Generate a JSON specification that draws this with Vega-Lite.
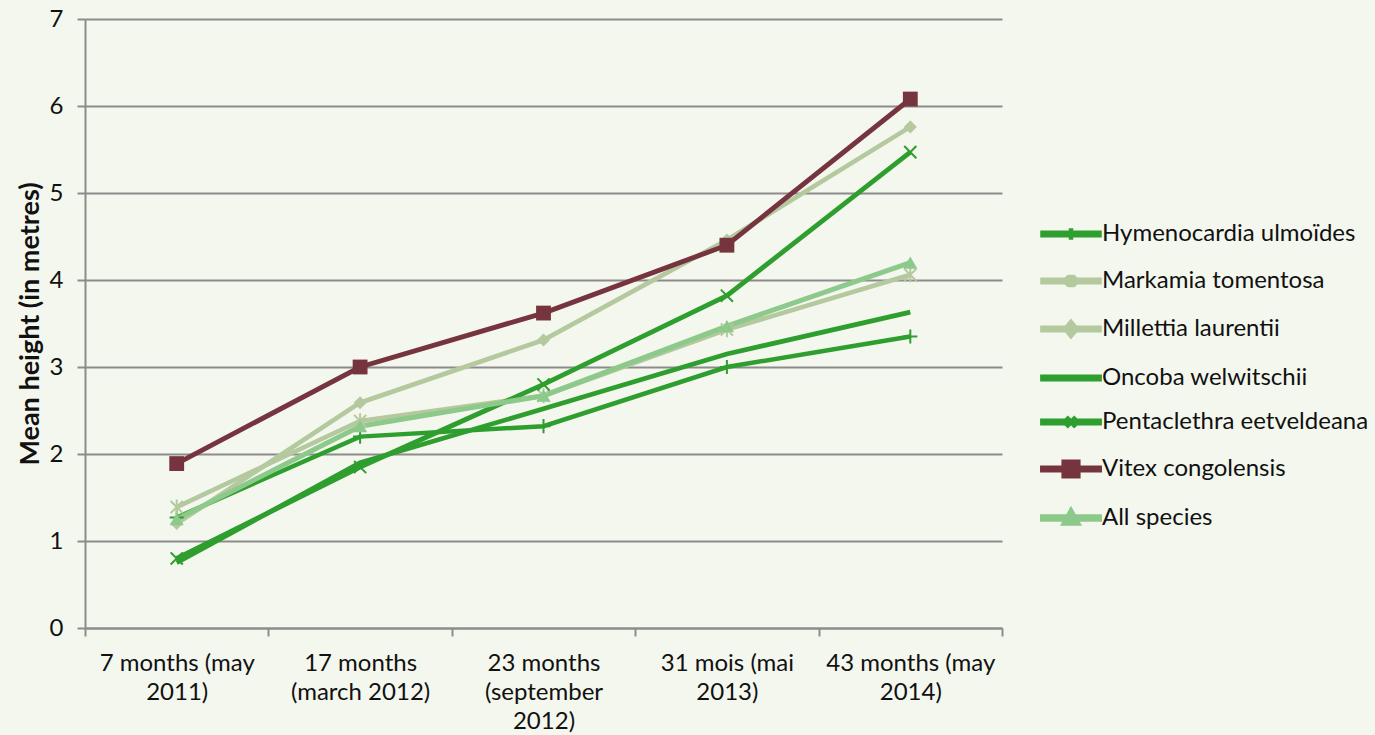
{
  "$schema": "https://vega.github.io/schema/vega-lite/v6.json",
  "width": 917,
  "height": 609,
  "autosize": "none",
  "padding": {"left": 85, "top": 19, "right": 373, "bottom": 107},
  "background": "#F4F7EE",
  "config": {
    "font": "Lato",
    "view": {"stroke": null}
  },
  "data": {
    "values": [
      {"species": "Hymenocardia ulmoïdes", "age": "7 months (may 2011)", "height": 1.27},
      {"species": "Hymenocardia ulmoïdes", "age": "17 months (march 2012)", "height": 2.2},
      {"species": "Hymenocardia ulmoïdes", "age": "23 months (september 2012)", "height": 2.32},
      {"species": "Hymenocardia ulmoïdes", "age": "31 mois (mai 2013)", "height": 3.0},
      {"species": "Hymenocardia ulmoïdes", "age": "43 months (may 2014)", "height": 3.35},
      {"species": "Markamia tomentosa", "age": "7 months (may 2011)", "height": 1.39},
      {"species": "Markamia tomentosa", "age": "17 months (march 2012)", "height": 2.38},
      {"species": "Markamia tomentosa", "age": "23 months (september 2012)", "height": 2.67},
      {"species": "Markamia tomentosa", "age": "31 mois (mai 2013)", "height": 3.43},
      {"species": "Markamia tomentosa", "age": "43 months (may 2014)", "height": 4.06},
      {"species": "Millettia laurentii", "age": "7 months (may 2011)", "height": 1.2},
      {"species": "Millettia laurentii", "age": "17 months (march 2012)", "height": 2.59},
      {"species": "Millettia laurentii", "age": "23 months (september 2012)", "height": 3.31},
      {"species": "Millettia laurentii", "age": "31 mois (mai 2013)", "height": 4.46},
      {"species": "Millettia laurentii", "age": "43 months (may 2014)", "height": 5.76},
      {"species": "Oncoba welwitschii", "age": "7 months (may 2011)", "height": 0.75},
      {"species": "Oncoba welwitschii", "age": "17 months (march 2012)", "height": 1.9},
      {"species": "Oncoba welwitschii", "age": "23 months (september 2012)", "height": 2.52},
      {"species": "Oncoba welwitschii", "age": "31 mois (mai 2013)", "height": 3.15},
      {"species": "Oncoba welwitschii", "age": "43 months (may 2014)", "height": 3.63},
      {"species": "Pentaclethra eetveldeana", "age": "7 months (may 2011)", "height": 0.8},
      {"species": "Pentaclethra eetveldeana", "age": "17 months (march 2012)", "height": 1.85},
      {"species": "Pentaclethra eetveldeana", "age": "23 months (september 2012)", "height": 2.8},
      {"species": "Pentaclethra eetveldeana", "age": "31 mois (mai 2013)", "height": 3.82},
      {"species": "Pentaclethra eetveldeana", "age": "43 months (may 2014)", "height": 5.47},
      {"species": "Vitex congolensis", "age": "7 months (may 2011)", "height": 1.89},
      {"species": "Vitex congolensis", "age": "17 months (march 2012)", "height": 3.0},
      {"species": "Vitex congolensis", "age": "23 months (september 2012)", "height": 3.62},
      {"species": "Vitex congolensis", "age": "31 mois (mai 2013)", "height": 4.4},
      {"species": "Vitex congolensis", "age": "43 months (may 2014)", "height": 6.08},
      {"species": "All species", "age": "7 months (may 2011)", "height": 1.25},
      {"species": "All species", "age": "17 months (march 2012)", "height": 2.32},
      {"species": "All species", "age": "23 months (september 2012)", "height": 2.67},
      {"species": "All species", "age": "31 mois (mai 2013)", "height": 3.47},
      {"species": "All species", "age": "43 months (may 2014)", "height": 4.2}
    ]
  },
  "encoding": {
    "x": {
      "field": "age",
      "type": "nominal",
      "bandPosition": 0.5,
      "scale": {
        "type": "band",
        "paddingInner": 0,
        "paddingOuter": 0,
        "domain": ["7 months (may 2011)", "17 months (march 2012)", "23 months (september 2012)", "31 mois (mai 2013)", "43 months (may 2014)"]
      },
      "axis": {
        "title": null,
        "labelAngle": 0,
        "tickBand": "extent",
        "grid": false,
        "labelFontSize": 24,
        "labelColor": "#111111",
        "labelLineHeight": 29,
        "labelPadding": 15,
        "labelBaseline": "top",
        "tickSize": 8,
        "tickColor": "#8C8C8C",
        "tickWidth": 2,
        "domainColor": "#8C8C8C",
        "domainWidth": 2,
        "labelExpr": "datum.value === '7 months (may 2011)' ? ['7 months (may', '2011)'] : datum.value === '17 months (march 2012)' ? ['17 months', '(march 2012)'] : datum.value === '23 months (september 2012)' ? ['23 months', '(september', '2012)'] : datum.value === '31 mois (mai 2013)' ? ['31 mois (mai', '2013)'] : datum.value === '43 months (may 2014)' ? ['43 months (may', '2014)'] : ''"
      }
    },
    "y": {
      "field": "height",
      "type": "quantitative",
      "scale": {"domain": [0, 7], "nice": false, "zero": true},
      "axis": {
        "title": "Mean height (in metres)",
        "titleFontSize": 27,
        "titleFontWeight": "bold",
        "titleColor": "#111111",
        "titlePadding": 5,
        "values": [0, 1, 2, 3, 4, 5, 6, 7],
        "labelFontSize": 24,
        "labelColor": "#111111",
        "labelPadding": 14,
        "tickSize": 8,
        "tickColor": "#8C8C8C",
        "tickWidth": 2,
        "domainColor": "#8C8C8C",
        "domainWidth": 2,
        "grid": true,
        "gridColor": "#8C8C8C",
        "gridWidth": 2
      }
    },
    "color": {
      "field": "species",
      "type": "nominal",
      "scale": {
        "domain": ["Hymenocardia ulmoïdes", "Markamia tomentosa", "Millettia laurentii", "Oncoba welwitschii", "Pentaclethra eetveldeana", "Vitex congolensis", "All species"],
        "range": ["#2E9E2E", "#B4C99E", "#B4C99E", "#2E9E2E", "#2E9E2E", "#76343F", "#8CC98B"]
      },
      "legend": {
        "title": null,
        "orient": "none",
        "legendX": 955,
        "legendY": 184,
        "labelFontSize": 24,
        "labelColor": "#111111",
        "labelOffset": 0,
        "labelLimit": 400,
        "rowPadding": 1,
        "symbolSize": 3249,
        "symbolType": "M-1,-0.04H1V0.04H-1Z",
        "encode": {
          "symbols": {
            "update": {
              "shape": {"signal": "datum.value === 'Hymenocardia ulmoïdes' ? 'M-1,-0.04H1V0.04H-1ZM0,-0.2V0.2' : datum.value === 'Markamia tomentosa' ? 'M-1,-0.04H1V0.04H-1ZM-0.17,-0.17L0.17,0.17M-0.17,0.17L0.17,-0.17M0,-0.22V0.22' : datum.value === 'Millettia laurentii' ? 'M-1,-0.04H1V0.04H-1ZM0,-0.24L0.2,0L0,0.24L-0.2,0Z' : datum.value === 'Pentaclethra eetveldeana' ? 'M-1,-0.04H1V0.04H-1ZM-0.17,-0.17L0.17,0.17M-0.17,0.17L0.17,-0.17' : datum.value === 'Vitex congolensis' ? 'M-1,-0.04H1V0.04H-1ZM-0.25,-0.25H0.25V0.25H-0.25Z' : datum.value === 'All species' ? 'M-1,-0.04H1V0.04H-1ZM0,-0.25L0.24,0.18H-0.24Z' : 'M-1,-0.04H1V0.04H-1Z'"},
              "fill": {"scale": "color", "field": "value"},
              "stroke": {"scale": "color", "field": "value"},
              "strokeWidth": {"value": 1.5},
              "size": {"value": 3249},
              "opacity": {"value": 1}
            }
          }
        }
      }
    }
  },
  "layer": [
    {
      "mark": {"type": "line", "strokeJoin": "miter"},
      "encoding": {
        "strokeWidth": {
          "field": "species",
          "type": "nominal",
          "scale": {
            "domain": ["Hymenocardia ulmoïdes", "Markamia tomentosa", "Millettia laurentii", "Oncoba welwitschii", "Pentaclethra eetveldeana", "Vitex congolensis", "All species"],
            "range": [4.5, 5, 5, 4.5, 4.5, 4.5, 6]
          },
          "legend": null
        }
      }
    },
    {
      "transform": [{"filter": "datum.species === 'Hymenocardia ulmoïdes'"}],
      "mark": {"type": "point", "shape": "M0,-1V1M-1,0H1", "filled": false, "opacity": 1, "size": 200, "strokeWidth": 2}
    },
    {
      "transform": [{"filter": "datum.species === 'Markamia tomentosa'"}],
      "mark": {"type": "point", "shape": "M-0.8,-0.8L0.8,0.8M-0.8,0.8L0.8,-0.8M0,-1V1", "filled": false, "opacity": 1, "size": 230, "strokeWidth": 2}
    },
    {
      "transform": [{"filter": "datum.species === 'Pentaclethra eetveldeana'"}],
      "mark": {"type": "point", "shape": "M-0.8,-0.8L0.8,0.8M-0.8,0.8L0.8,-0.8", "filled": false, "opacity": 1, "size": 230, "strokeWidth": 2}
    },
    {
      "transform": [{"filter": "datum.species === 'Millettia laurentii'"}],
      "mark": {"type": "point", "shape": "diamond", "filled": true, "opacity": 1, "size": 170}
    },
    {
      "transform": [{"filter": "datum.species === 'Vitex congolensis'"}],
      "mark": {"type": "point", "shape": "square", "filled": true, "opacity": 1, "size": 220}
    },
    {
      "transform": [{"filter": "datum.species === 'All species'"}],
      "mark": {"type": "point", "shape": "triangle-up", "filled": true, "opacity": 1, "size": 200}
    }
  ]
}
